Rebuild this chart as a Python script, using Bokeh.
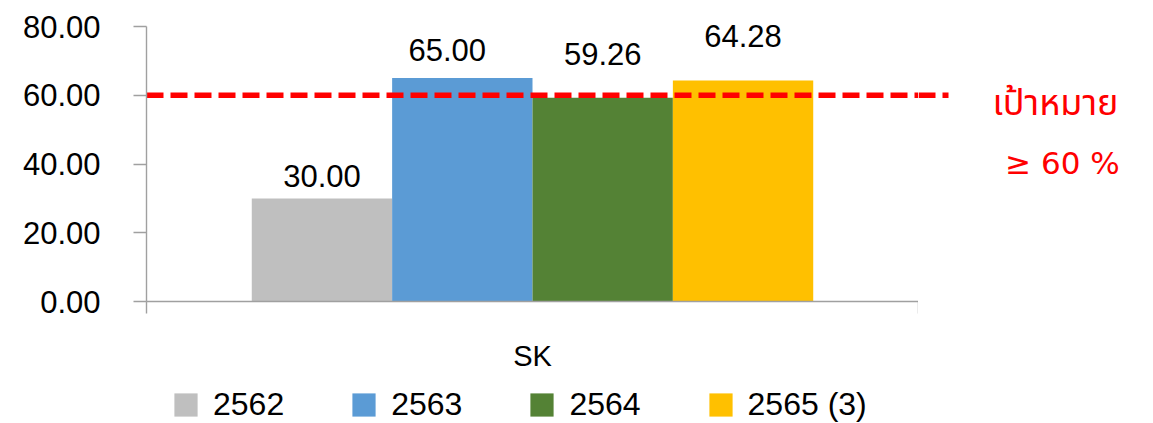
from bokeh.plotting import figure
from bokeh.layouts import column, row
from bokeh.models import (Range1d, FixedTicker, NumeralTickFormatter,
                          Legend, LegendItem, ColumnDataSource)
from bokeh.core.properties import value
from bokeh.embed import file_html
from bokeh.resources import INLINE

# ---------------- data ----------------
categories = ["SK"]
years = ["2562", "2563", "2564", "2565 (3)"]
values = [30.00, 65.00, 59.26, 64.28]
target = 60
target_text = ["เป้าหมาย", "≥ 60 %"]
y_ticks = [0, 20, 40, 60, 80]

# ---------------- style ----------------
colors = ["#BFBFBF", "#5B9BD5", "#548235", "#FFC000"]
label_gap_px = [10, 16, 32, 33]      # manual nudges of the data labels
label_dx_px = [0, -15, 0, 0]
FONT = "Liberation Sans"
THAI_FONT = "Noto Sans Thai, Loma, Garuda, Tlwg Typo, Noto Sans, sans-serif"
NOTE_FONT = "DejaVu Sans"
AXIS_COLOR = "#A0A0A0"
RED = "#FF0000"

# page geometry (pixels)
W, H = 1153, 423
FL, FR, FT, FB = 146, 918, 26, 301     # plot frame: y=80 at FT, y=0 at FB
ROW_H = 380                            # chart row; legend strip below
TOP_PAD = 10                           # extra room above the 80 line
Y_MAX = 80
n = len(categories)
px_per_x = (FR - FL) / n
px_per_y = (FB - FT) / Y_MAX

def px_x(px):
    return (px - FL) / px_per_x

def px_y(py):
    return (FB - py) / px_per_y

y_range = Range1d(0, Y_MAX + TOP_PAD / px_per_y)

def clean(fig):
    fig.outline_line_color = None
    fig.xgrid.visible = False
    fig.ygrid.visible = False
    fig.background_fill_color = "white"
    fig.border_fill_color = "white"

# ---------------- main chart ----------------
p = figure(width=FR, height=ROW_H, x_range=Range1d(0, n), y_range=y_range,
           output_backend="svg", toolbar_location=None,
           min_border_left=FL, min_border_right=0,
           min_border_top=FT - TOP_PAD, min_border_bottom=ROW_H - FB)
clean(p)

bar_w = 1.0 / (len(years) + 1.5)
for k, yr in enumerate(years):
    off = (k - (len(years) - 1) / 2) * bar_w
    xs = [i + 0.5 + off for i in range(n)]
    src = ColumnDataSource(dict(x=xs, top=[values[k]]))
    p.vbar(x="x", top="top", width=bar_w, source=src,
           fill_color=colors[k], line_color=None)
    p.text(x=xs, y=[values[k]], text=[f"{values[k]:.2f}"],
           x_offset=label_dx_px[k], y_offset=-(label_gap_px[k] + 12),
           text_align="center", text_baseline="alphabetic",
           text_font=value(FONT), text_font_size="31px", text_color="black")

p.line(x=[0, n], y=[target, target], line_color=RED, line_width=5.5, line_dash="17 7")

ya = p.yaxis[0]
ya.ticker = FixedTicker(ticks=y_ticks)
ya.formatter = NumeralTickFormatter(format="0.00")
ya.bounds = (0, Y_MAX)
ya.major_tick_out = 13
ya.major_tick_in = 0
ya.minor_tick_out = 0
ya.minor_tick_in = 0
ya.major_label_standoff = 33
ya.major_label_text_baseline = "bottom"
ya.axis_line_color = AXIS_COLOR
ya.axis_line_width = 1.4
ya.major_tick_line_color = AXIS_COLOR
ya.major_tick_line_width = 1.4
ya.major_label_text_font = FONT
ya.major_label_text_font_size = "31px"
ya.major_label_text_color = "black"

xa = p.xaxis[0]
centers = [i + 0.5 for i in range(n)]
xa.ticker = FixedTicker(ticks=centers, minor_ticks=list(range(n + 1)))
xa.major_label_overrides = {c: categories[i] for i, c in enumerate(centers)}
xa.major_tick_out = 0
xa.major_tick_in = 0
xa.minor_tick_out = 12
xa.minor_tick_in = 0
xa.minor_tick_line_color = AXIS_COLOR
xa.minor_tick_line_width = 1.4
xa.axis_line_color = AXIS_COLOR
xa.axis_line_width = 1.4
xa.major_label_standoff = 26
xa.major_label_text_font = FONT
xa.major_label_text_font_size = "29px"
xa.major_label_text_color = "black"

# ---------------- right strip: continuation of the target line + note ----------------
SW = W - FR
s = figure(width=SW, height=ROW_H, x_range=Range1d(n, n + SW / px_per_x), y_range=y_range,
           output_backend="svg", toolbar_location=None,
           x_axis_location=None, y_axis_location=None,
           min_border_left=0, min_border_right=0,
           min_border_top=FT - TOP_PAD, min_border_bottom=ROW_H - FB)
clean(s)
s.line(x=[n, px_x(948)], y=[target, target], line_color=RED, line_width=5.5, line_dash="17 7")
s.text(x=[px_x(1055)], y=[px_y(103)], text=[target_text[0]],
       text_align="center", text_baseline="middle",
       text_font=value(THAI_FONT), text_font_size="36px", text_color=RED)
s.text(x=[px_x(1062)], y=[px_y(162)], text=[target_text[1]],
       text_align="center", text_baseline="middle",
       text_font=value(NOTE_FONT), text_font_size="31px", text_color=RED)

# ---------------- legend strip ----------------
LH = H - ROW_H
g = figure(width=W, height=LH, x_range=Range1d(0, 1), y_range=Range1d(0, 1),
           output_backend="svg", toolbar_location=None,
           x_axis_location=None, y_axis_location=None,
           min_border_left=0, min_border_right=0, min_border_top=0, min_border_bottom=0)
clean(g)
nan = float("nan")
swatches = [g.vbar(x=[nan], top=[nan], width=0.1, fill_color=c, line_color=None) for c in colors]
legend = Legend(items=[LegendItem(label=yr, renderers=[swatches[k]]) for k, yr in enumerate(years)],
                orientation="horizontal", location=(171, 0),
                glyph_width=29, glyph_height=29, label_height=29, label_standoff=13, spacing=65,
                padding=0, margin=0, border_line_color=None, background_fill_alpha=0,
                label_text_font=FONT, label_text_font_size="32px", label_text_color="black")
g.add_layout(legend, "center")

layout = column(row(p, s, spacing=0), g, spacing=0)
open("out.html", "w").write(file_html(layout, INLINE))
